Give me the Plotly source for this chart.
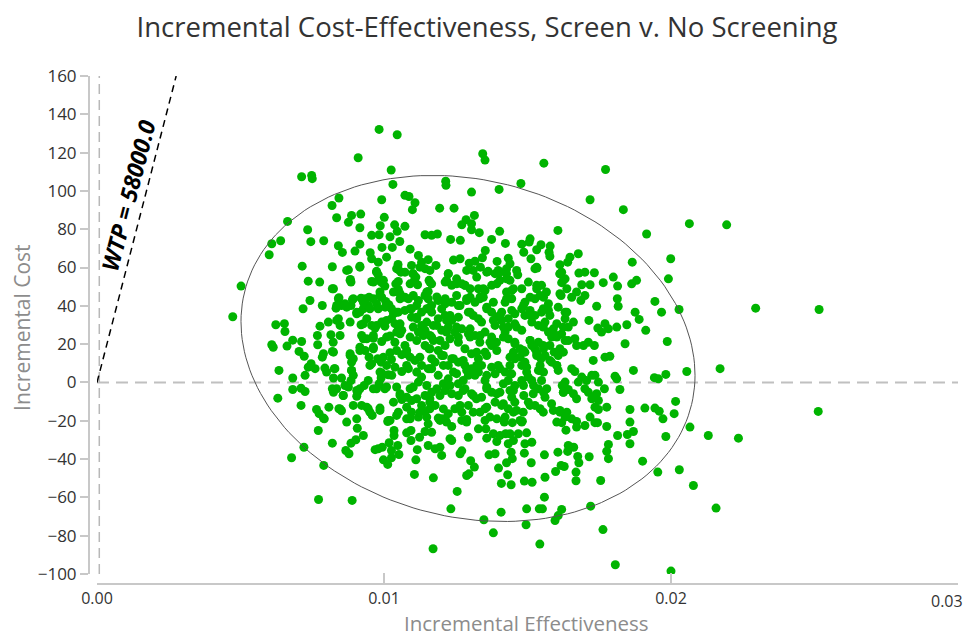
import math
import plotly.graph_objects as go

# ---- Monte Carlo replicates (incremental effectiveness, incremental cost), read by region ----
eff_upper_left = [0.00983, 0.01046, 0.00910, 0.01025, 0.00713, 0.00748, 0.00750, 0.01031, 0.01073, 0.01087,
                  0.01108, 0.01099, 0.00992, 0.00843, 0.00819, 0.00664, 0.00835, 0.00887, 0.00919, 0.00876,
                  0.01001, 0.00987, 0.00916, 0.01037, 0.01073, 0.01046, 0.00734, 0.00640, 0.00609, 0.00600,
                  0.00745, 0.00790, 0.00841, 0.00855, 0.00899, 0.00916, 0.00957, 0.00983, 0.01021, 0.01055,
                  0.00993, 0.01029, 0.01091, 0.01143, 0.01166, 0.00952, 0.00957, 0.01009, 0.00980, 0.00715,
                  0.00820, 0.00876, 0.00916, 0.00974, 0.01049, 0.01050, 0.01096, 0.01120, 0.01131, 0.01154,
                  0.01143, 0.01073]
cost_upper_left = [132.1, 129.3, 117.3, 110.9, 107.4, 108.1, 106.4, 103.4, 97.7, 97.1,
                   93.8, 90.2, 95.4, 96.3, 92.4, 84.1, 86.0, 87.2, 87.9, 83.6,
                   86.2, 81.8, 80.8, 82.3, 81.5, 78.9, 79.7, 74.0, 72.4, 66.7,
                   73.5, 74.0, 71.4, 67.9, 68.6, 72.2, 76.8, 77.1, 76.1, 73.6,
                   70.5, 70.5, 69.6, 77.1, 76.8, 67.7, 64.6, 65.4, 62.8, 60.7,
                   60.4, 58.8, 60.7, 58.0, 61.6, 59.0, 61.1, 66.3, 62.8, 64.1,
                   59.4, 57.6]

eff_upper_centre = [0.01344, 0.01352, 0.01557, 0.01772, 0.01215, 0.01216, 0.01305, 0.01401, 0.01477, 0.01718,
                    0.01834, 0.01194, 0.01244, 0.01315, 0.01286, 0.01271, 0.01305, 0.01305, 0.01332, 0.01403,
                    0.01606, 0.01186, 0.01232, 0.01266, 0.01375, 0.01423, 0.01480, 0.01509, 0.01506, 0.01547,
                    0.01532, 0.01579, 0.01575, 0.01578, 0.01487, 0.01512, 0.01353, 0.01343, 0.01394, 0.01433,
                    0.01439, 0.01427, 0.01242, 0.01265, 0.01181, 0.01297, 0.01317, 0.01336, 0.01311, 0.01363,
                    0.01398, 0.01224, 0.01466, 0.01533, 0.01613, 0.01648, 0.01677, 0.01640, 0.01613, 0.01679,
                    0.01733, 0.01799, 0.01865]
cost_upper_centre = [119.4, 116.1, 114.5, 111.2, 105.1, 102.9, 99.4, 100.8, 103.9, 95.4,
                     90.2, 91.0, 91.0, 87.2, 85.0, 82.3, 82.9, 79.7, 78.2, 78.9,
                     79.4, 77.5, 74.7, 74.2, 74.7, 72.6, 72.2, 75.0, 73.3, 71.9,
                     69.3, 71.2, 68.0, 65.8, 68.0, 64.6, 68.9, 65.1, 63.2, 64.9,
                     62.0, 59.4, 63.9, 64.6, 61.1, 62.3, 63.3, 60.2, 58.5, 58.0,
                     58.5, 56.8, 56.2, 59.7, 61.5, 65.4, 67.2, 62.8, 56.8, 57.1,
                     57.3, 55.0, 62.8]

eff_upper_right = [0.02064, 0.02194, 0.01915, 0.01999]
cost_upper_right = [82.9, 82.3, 77.5, 64.6]

eff_mid_left = [0.00502, 0.00473, 0.00980, 0.01059, 0.01100, 0.01111, 0.01160, 0.00736, 0.00776, 0.00820,
                0.00883, 0.00885, 0.00957, 0.00980, 0.01003, 0.00992, 0.01050, 0.01041, 0.01106, 0.01117,
                0.01157, 0.01166, 0.01050, 0.01056, 0.01073, 0.01085, 0.01154, 0.01143, 0.01120, 0.00986,
                0.00992, 0.00948, 0.00963, 0.01006, 0.01017, 0.00974, 0.00980, 0.00920, 0.00890, 0.00885,
                0.00843, 0.00852, 0.00833, 0.00864, 0.00742, 0.00718, 0.00785, 0.00905, 0.00916, 0.00940,
                0.00920, 0.00957, 0.00969, 0.00992, 0.01003, 0.01026, 0.01038, 0.01050, 0.01062, 0.01096,
                0.01114, 0.01131, 0.01149, 0.01096, 0.01073, 0.01131, 0.01143, 0.00841, 0.00847, 0.00806,
                0.00777, 0.00623, 0.00653, 0.00655, 0.00609, 0.00614, 0.00662, 0.00682, 0.00713, 0.00704,
                0.00722, 0.00768, 0.00769, 0.00815, 0.00823, 0.00820, 0.00789, 0.00785, 0.00746, 0.00736,
                0.00760, 0.00725, 0.00634, 0.00682, 0.00682, 0.00725, 0.00711, 0.00630, 0.00711, 0.00765,
                0.00774, 0.00789, 0.00808, 0.00843, 0.00852, 0.00794, 0.00800, 0.00827, 0.00824, 0.00852,
                0.00864, 0.00876, 0.00820, 0.00824, 0.00858, 0.00887, 0.00893, 0.00885, 0.00882, 0.00893,
                0.00887, 0.00916, 0.00934, 0.00963, 0.00948, 0.00957, 0.00978, 0.00990, 0.00922, 0.00940,
                0.00963, 0.00992, 0.00945, 0.00931, 0.00916, 0.00908, 0.00905, 0.00922, 0.00945, 0.00951,
                0.00986, 0.01015, 0.01044, 0.01050, 0.00992, 0.00990, 0.01015, 0.00983, 0.00974, 0.01003,
                0.01044, 0.01056, 0.01062, 0.01091, 0.01079, 0.01096, 0.01120, 0.01131, 0.01149, 0.01114,
                0.01131, 0.01143, 0.01160, 0.01021, 0.01038, 0.01056, 0.01073, 0.01079, 0.01062, 0.01091,
                0.01021, 0.01026, 0.01009, 0.01038, 0.01062, 0.01085, 0.01108, 0.01131, 0.01154, 0.01166,
                0.01114, 0.01143, 0.01157, 0.01120, 0.01160, 0.00928, 0.00945, 0.01026, 0.01033, 0.01050,
                0.00934, 0.01154, 0.01166, 0.01114, 0.00905, 0.01079, 0.01096, 0.01120]
cost_mid_left = [50.3, 34.3, 56.2, 57.6, 56.8, 55.0, 58.5, 52.9, 52.4, 48.9,
                 53.8, 52.4, 52.7, 53.3, 50.3, 52.1, 52.7, 51.5, 53.3, 51.0,
                 53.3, 51.5, 48.6, 46.3, 44.5, 43.7, 47.5, 45.4, 42.8, 47.2,
                 44.5, 44.5, 43.7, 42.3, 40.6, 41.1, 38.5, 44.0, 43.2, 40.2,
                 44.2, 40.2, 38.8, 41.1, 42.8, 38.5, 40.2, 35.9, 36.7, 33.3,
                 30.1, 29.8, 28.4, 31.5, 29.4, 33.3, 30.7, 28.9, 27.2, 34.1,
                 33.3, 36.7, 38.5, 38.5, 37.6, 29.8, 27.2, 33.3, 29.8, 31.5,
                 29.4, 30.1, 30.7, 26.6, 19.7, 18.4, 19.0, 22.1, 21.4, 16.2,
                 13.7, 24.5, 19.7, 24.9, 21.0, 16.2, 15.0, 13.2, 9.8, 8.0,
                 7.2, 3.7, 6.3, 2.3, -3.7, -4.7, -3.0, -8.2, -12.0, -14.1,
                 -16.3, -18.6, -12.9, -13.7, -14.8, 7.5, 5.4, 7.2, 2.3, 2.3,
                 -1.6, -2.4, -3.3, -5.1, -6.8, 6.3, 3.7, 1.0, 15.0, 12.4,
                 10.6, 18.4, 16.7, 18.4, 13.2, 9.8, 12.4, 10.6, 24.5, 22.8,
                 23.1, 21.4, 1.0, -1.6, -3.3, -5.1, -7.2, -12.0, -13.7, -15.5,
                 -13.4, -19.8, -17.2, -15.5, 5.0, 2.3, 4.0, -0.7, -3.3, -3.3,
                 -2.4, -6.8, -8.9, -3.3, -7.7, -9.4, 0.2, 2.8, -1.6, -8.5,
                 -12.0, -15.1, -13.7, 24.2, 21.0, 25.4, 19.3, 16.7, 14.5, 13.2,
                 15.5, 12.0, 8.9, 8.0, 5.7, 7.2, 11.5, 8.9, 7.2, 12.4,
                 21.9, 19.3, 17.6, 26.3, 24.5, 38.5, 40.2, 38.5, 35.9, 36.7,
                 43.7, 43.7, 40.2, 40.2, -19.0, -19.0, -15.5, -18.1]

eff_mid_centre = [0.01700, 0.01619, 0.01631, 0.01689, 0.01718, 0.01619, 0.01637, 0.01764, 0.01814, 0.01617,
                  0.01654, 0.01671, 0.01686, 0.01700, 0.01741, 0.01813, 0.01816, 0.01714, 0.01745, 0.01758,
                  0.01770, 0.01782, 0.01811, 0.01811, 0.01822, 0.01805, 0.01768, 0.01741, 0.01724, 0.01747,
                  0.01776, 0.01735, 0.01747, 0.01718, 0.01654, 0.01613, 0.01637, 0.01590, 0.01584, 0.01625,
                  0.01642, 0.01660, 0.01671, 0.01677, 0.01689, 0.01706, 0.01724, 0.01735, 0.01747, 0.01700,
                  0.01712, 0.01729, 0.01654, 0.01665, 0.01729, 0.01770, 0.01787, 0.01733, 0.01665, 0.01671,
                  0.01695, 0.01712, 0.01631, 0.01619, 0.01602, 0.01613, 0.01607, 0.01584, 0.01578, 0.01593,
                  0.01584, 0.01602, 0.01607, 0.01631, 0.01621, 0.01556, 0.01561, 0.01547, 0.01538, 0.01526,
                  0.01532, 0.01544, 0.01538, 0.01556, 0.01549, 0.01538, 0.01521, 0.01556, 0.01561, 0.01497,
                  0.01503, 0.01515, 0.01487, 0.01503, 0.01526, 0.01544, 0.01485, 0.01480, 0.01451, 0.01433,
                  0.01422, 0.01451, 0.01445, 0.01456, 0.01404, 0.01387, 0.01410, 0.01352, 0.01334, 0.01369,
                  0.01294, 0.01271, 0.01247, 0.01224, 0.01201, 0.01218, 0.01178, 0.01160, 0.01166, 0.01195,
                  0.01213, 0.01236, 0.01259, 0.01282, 0.01305, 0.01322, 0.01340, 0.01358, 0.01375, 0.01416,
                  0.01433, 0.01456, 0.01480, 0.01480, 0.01491, 0.01474, 0.01439, 0.01422, 0.01445, 0.01456,
                  0.01451, 0.01398, 0.01387, 0.01375, 0.01340, 0.01329, 0.01317, 0.01352, 0.01294, 0.01276,
                  0.01259, 0.01282, 0.01305, 0.01242, 0.01224, 0.01207, 0.01189, 0.01166, 0.01178, 0.01201,
                  0.01236, 0.01259, 0.01224, 0.01189, 0.01213, 0.01282, 0.01305, 0.01329, 0.01352, 0.01375,
                  0.01334, 0.01317, 0.01352, 0.01375, 0.01392, 0.01422, 0.01433, 0.01456, 0.01474, 0.01491,
                  0.01462, 0.01480, 0.01509, 0.01515, 0.01538, 0.01561, 0.01573, 0.01590, 0.01578, 0.01573,
                  0.01549, 0.01526, 0.01491, 0.01509, 0.01480, 0.01456, 0.01433, 0.01410, 0.01392, 0.01375,
                  0.01358, 0.01422, 0.01445, 0.01427, 0.01451, 0.01439, 0.01427, 0.01387, 0.01404, 0.01375,
                  0.01352, 0.01329, 0.01334, 0.01346, 0.01317, 0.01300, 0.01288, 0.01294, 0.01311, 0.01329,
                  0.01259, 0.01236, 0.01213, 0.01189, 0.01253, 0.01271, 0.01236, 0.01213, 0.01282, 0.01300,
                  0.01166, 0.01189, 0.01213, 0.01236, 0.01259, 0.01172, 0.01201, 0.01224, 0.01247, 0.01271,
                  0.01294, 0.01166, 0.01195, 0.01230, 0.01259, 0.01387, 0.01410, 0.01433, 0.01602, 0.01631,
                  0.01642, 0.01660, 0.01607, 0.01631, 0.01526, 0.01556, 0.01573, 0.01491, 0.01509, 0.01532,
                  0.01549, 0.01566, 0.01480, 0.01503, 0.01526]
cost_mid_centre = [57.6, 57.6, 54.1, 51.0, 51.0, 52.1, 48.9, 52.1, 50.3, 45.4,
                   44.5, 47.2, 42.8, 45.4, 39.8, 43.7, 39.8, 32.4, 28.4, 26.3,
                   30.7, 28.0, 28.9, 1.9, -3.7, 3.3, -3.3, -5.9, -8.5, -9.4,
                   -12.9, -12.9, -14.1, -18.1, -19.0, -15.5, -15.5, -14.6, -11.1, -5.1,
                   -3.7, -5.9, -8.5, 0.2, 2.8, 1.0, 3.7, 3.7, 0.2, -3.3,
                   -5.1, -7.7, 7.2, 5.7, 11.5, 13.2, 13.7, 19.3, 22.8, 19.3,
                   19.3, 21.0, 21.9, 25.4, 23.7, 17.6, 14.1, 23.7, 19.3, 15.8,
                   10.6, 8.9, 6.3, 0.2, -1.6, 17.6, 14.1, 12.4, 21.0, 17.6,
                   15.5, 8.9, 6.3, 5.4, 1.0, -3.3, -1.6, -5.1, -7.7, 5.4,
                   2.8, 1.0, -6.8, -10.3, -12.0, -13.7, -15.5, -20.7, -15.5, -13.7,
                   -18.1, -4.2, -7.7, -10.3, -5.1, -10.3, -12.0, -13.7, -15.5, -18.1,
                   -12.0, -15.5, -13.7, -16.3, -19.0, -20.7, -12.0, -8.5, -5.1, -6.8,
                   -4.2, -5.9, -6.8, -3.3, -5.9, -8.5, -7.7, -3.3, -5.1, -0.7,
                   1.0, -1.6, 1.0, 8.9, 10.6, 13.2, 8.9, 5.4, 4.5, 12.4,
                   15.8, 8.9, 4.5, 8.0, 8.9, 5.4, 3.7, 1.0, 3.7, 1.0,
                   -0.7, 8.9, 7.2, 5.4, 1.9, -0.7, 3.7, 7.2, 10.6, 14.1,
                   12.4, 10.6, 8.9, 16.7, 19.3, 17.6, 15.0, 12.4, 15.8, 19.3,
                   21.0, 24.5, 26.3, 23.7, 21.0, 26.3, 22.8, 20.2, 17.6, 15.8,
                   28.9, 27.2, 21.9, 19.3, 29.8, 31.5, 26.3, 28.0, 35.0, 37.6,
                   36.7, 35.0, 35.0, 37.6, 38.5, 35.9, 33.3, 36.7, 34.1, 36.7,
                   39.3, 41.9, 43.7, 47.2, 48.9, 53.3, 56.8, 56.8, 53.3, 50.7,
                   48.0, 48.9, 43.7, 44.5, 41.9, 44.5, 42.8, 36.7, 35.0, 33.3,
                   40.2, 41.9, 41.1, 42.8, 54.1, 51.5, 50.7, 52.4, 50.7, 48.9,
                   36.7, 33.3, 35.0, 32.4, 34.1, 29.8, 27.2, 28.9, 26.3, 28.0,
                   25.4, 23.7, 21.9, 22.8, 21.0, 29.8, 32.4, 28.9, 30.7, 33.3,
                   28.9, 31.5, 39.3, 36.7, 43.7, 44.5, 41.1, 41.9, 44.5, 48.9,
                   50.7, 47.2, 48.9, 52.4, 59.4]

# dense core, read row by row
eff_core = [0.00870, 0.00916, 0.00974, 0.01044, 0.01102, 0.01125, 0.01224, 0.01288, 0.01323, 0.01358, 0.01404, 0.01427, 0.01462, 0.01532, 0.01613,
            0.00882, 0.00963, 0.00998, 0.01091, 0.01160, 0.01218, 0.01253, 0.01282, 0.01346, 0.01393, 0.01445, 0.01532, 0.01625,
            0.00824, 0.00841, 0.00893, 0.00928, 0.00986, 0.01033, 0.01056, 0.01102, 0.01149, 0.01184, 0.01213, 0.01253, 0.01288, 0.01335, 0.01381, 0.01427, 0.01486, 0.01544, 0.01613,
            0.00835, 0.00870, 0.00905, 0.00951, 0.01004, 0.01044, 0.01091, 0.01114, 0.01160, 0.01201, 0.01230, 0.01265, 0.01300, 0.01358, 0.01404, 0.01445, 0.01509, 0.01555, 0.01637,
            0.00835, 0.00882, 0.00928, 0.00974, 0.01009, 0.01056, 0.01102, 0.01149, 0.01184, 0.01218, 0.01253, 0.01300, 0.01340, 0.01381, 0.01416, 0.01456, 0.01515, 0.01555, 0.01625,
            0.00847, 0.00928, 0.00963, 0.01009, 0.01044, 0.01091, 0.01137, 0.01172, 0.01218, 0.01259, 0.01300, 0.01335, 0.01369, 0.01416, 0.01456, 0.01509, 0.01555, 0.01602, 0.01642,
            0.00824, 0.00882, 0.00916, 0.00963, 0.00998, 0.01044, 0.01079, 0.01125, 0.01160, 0.01207, 0.01242, 0.01276, 0.01323, 0.01358, 0.01393, 0.01439, 0.01486, 0.01532, 0.01578, 0.01625,
            0.00829, 0.00887, 0.00951, 0.00986, 0.01027, 0.01079, 0.01114, 0.01160, 0.01207, 0.01253, 0.01288, 0.01323, 0.01358, 0.01404, 0.01439, 0.01497, 0.01544, 0.01602,
            0.00835, 0.00858, 0.00905, 0.00963, 0.01009, 0.01056, 0.01102, 0.01143, 0.01184, 0.01230, 0.01276, 0.01311, 0.01358, 0.01393, 0.01439, 0.01486, 0.01520, 0.01567, 0.01625,
            0.00847, 0.00893, 0.00940, 0.00986, 0.01033, 0.01079, 0.01125, 0.01160, 0.01207, 0.01265, 0.01311, 0.01358, 0.01416, 0.01462, 0.01509, 0.01555, 0.01613,
            0.00870, 0.01021, 0.01091, 0.01195, 0.01288, 0.01393, 0.01474, 0.01602]
cost_core = [58.5, 60.2, 57.6, 59.4, 56.7, 60.2, 56.7, 58.5, 55.0, 57.6, 57.6, 54.1, 58.5, 60.2, 56.7,
             53.3, 52.4, 53.3, 51.5, 52.4, 53.3, 51.5, 50.7, 48.9, 51.5, 48.0, 50.7, 53.3,
             48.9, 43.7, 43.7, 41.9, 45.4, 47.2, 43.7, 45.4, 47.2, 44.6, 43.7, 45.4, 43.7, 44.6, 41.9, 43.7, 40.2, 45.4, 46.3,
             40.2, 39.3, 36.7, 38.5, 39.3, 36.7, 38.5, 34.1, 39.3, 38.5, 35.0, 40.2, 36.7, 38.5, 35.0, 37.6, 35.0, 38.5, 36.7,
             32.4, 31.5, 30.6, 29.8, 32.4, 30.6, 28.9, 31.5, 29.8, 32.4, 28.9, 28.0, 31.5, 32.4, 28.9, 30.6, 31.5, 28.9, 28.9,
             24.5, 22.8, 24.5, 23.7, 26.3, 23.7, 24.5, 21.9, 26.3, 23.7, 23.7, 24.5, 21.0, 23.7, 21.0, 21.9, 19.3, 24.5, 21.9,
             15.8, 14.1, 16.7, 17.6, 13.2, 16.7, 15.0, 13.2, 17.6, 14.1, 12.4, 11.5, 15.8, 14.1, 16.7, 13.2, 16.7, 14.1, 11.5, 15.8,
             7.2, 6.3, 8.9, 5.4, 3.7, 8.9, 5.4, 7.2, 8.9, 4.6, 6.3, 8.9, 3.7, 7.2, 4.6, 8.0, 6.3, 8.9,
             -3.3, -6.8, -4.2, -3.3, -2.4, -5.9, -2.4, -6.8, -3.3, -1.6, -4.2, -6.8, -2.4, -5.9, -4.2, -1.6, -5.9, -3.3, -5.1,
             -13.8, -12.0, -12.9, -14.6, -10.3, -12.9, -15.5, -10.3, -13.8, -12.0, -15.5, -12.9, -11.1, -14.6, -12.0, -15.5, -14.6,
             -20.7, -19.8, -19.0, -19.8, -20.7, -19.0, -19.8, -20.7]

eff_mid_right = [0.01991, 0.01863, 0.01880, 0.01944, 0.01967, 0.02028, 0.02295, 0.02516, 0.01875, 0.01889,
                 0.01846, 0.01912, 0.01840, 0.01987, 0.01869, 0.01942, 0.01956, 0.01982, 0.02055, 0.02171,
                 0.02016, 0.01857, 0.01909, 0.01944, 0.01959, 0.02011, 0.01972, 0.01857, 0.02513]
cost_mid_right = [54.1, 51.5, 53.3, 42.3, 36.7, 38.1, 38.8, 38.1, 36.7, 32.9,
                  30.1, 27.2, 20.2, 21.4, 6.3, 2.5, 1.9, 4.2, 5.7, 7.2,
                  -9.9, -14.1, -13.4, -13.4, -15.0, -16.3, -19.0, -20.7, -15.1]

eff_lower_left = [0.00721, 0.00678, 0.00790, 0.00772, 0.00889, 0.00771, 0.00792, 0.00820, 0.00907, 0.00928,
                  0.00902, 0.00885, 0.00867, 0.00878, 0.00969, 0.00980, 0.00994, 0.01018, 0.01048, 0.01026,
                  0.00998, 0.01013, 0.01026, 0.01052, 0.01035, 0.01035, 0.01013, 0.01079, 0.01094, 0.01094,
                  0.01124, 0.01143, 0.01116, 0.01111, 0.01106, 0.01091, 0.01149, 0.00959]
cost_lower_left = [-33.8, -39.3, -43.3, -61.1, -61.6, -25.1, -19.0, -31.7, -23.9, -27.7,
                   -29.9, -31.7, -35.5, -37.2, -35.1, -34.6, -33.8, -31.5, -32.9, -35.5,
                   -40.4, -42.8, -39.3, -37.6, -25.1, -27.7, -20.4, -26.3, -25.1, -30.3,
                   -28.6, -25.6, -35.1, -40.4, -48.0, -18.6, -18.1, -17.2]

eff_lower_centre = [0.01172, 0.01255, 0.01233, 0.01348, 0.01381, 0.01171, 0.01408, 0.01497, 0.01495, 0.01541,
                    0.01552, 0.01559, 0.01543, 0.01619, 0.01607, 0.01596, 0.01720, 0.01763, 0.01806, 0.01409,
                    0.01443, 0.01489, 0.01516, 0.01561, 0.01669, 0.01755, 0.01431, 0.01399, 0.01288, 0.01296,
                    0.01315, 0.01302, 0.01265, 0.01271, 0.01201, 0.01178, 0.01154, 0.01427, 0.01447, 0.01513,
                    0.01559, 0.01606, 0.01598, 0.01617, 0.01628, 0.01669, 0.01679, 0.01675, 0.01715, 0.01642,
                    0.01661, 0.01640, 0.01782, 0.01776, 0.01782, 0.01814, 0.01776, 0.01735, 0.01744, 0.01700,
                    0.01671, 0.01671, 0.01634, 0.01619, 0.01631, 0.01489, 0.01491, 0.01515, 0.01497, 0.01468,
                    0.01482, 0.01447, 0.01439, 0.01451, 0.01433, 0.01443, 0.01393, 0.01404, 0.01366, 0.01387,
                    0.01358, 0.01355, 0.01381, 0.01329, 0.01352, 0.01294, 0.01230, 0.01236, 0.01195, 0.01236,
                    0.01166, 0.01154, 0.01213, 0.01189, 0.01271, 0.01288, 0.01424, 0.01419]
cost_lower_centre = [-49.8, -56.9, -66.0, -71.7, -78.5, -86.8, -67.7, -66.0, -74.3, -66.0,
                     -66.0, -59.9, -84.4, -66.3, -69.5, -72.1, -64.6, -76.8, -95.2, -52.7,
                     -53.4, -51.5, -52.1, -49.5, -51.3, -51.2, -48.2, -44.7, -48.6, -47.7,
                     -44.2, -40.9, -37.2, -35.7, -38.1, -34.6, -32.9, -41.9, -39.8, -41.9,
                     -37.8, -36.4, -46.5, -43.3, -43.9, -46.8, -41.9, -38.6, -38.8, -32.9,
                     -33.8, -36.0, -39.8, -35.9, -32.4, -27.7, -23.0, -21.0, -21.0, -22.5,
                     -20.4, -23.3, -24.9, -21.0, -18.1, -36.9, -32.0, -31.2, -26.3, -26.8,
                     -20.2, -21.0, -26.8, -30.3, -32.0, -36.4, -30.8, -27.7, -37.8, -37.2,
                     -29.1, -24.2, -26.8, -24.2, -19.8, -28.6, -29.4, -30.3, -33.8, -23.0,
                     -26.0, -21.6, -19.0, -18.6, -19.8, -19.3, -26.8, -20.7]

eff_lower_right = [0.02066, 0.01848, 0.01869, 0.01857, 0.01982, 0.02130, 0.02235, 0.01901, 0.01954, 0.02029,
                   0.02078, 0.02157, 0.02000]
cost_lower_right = [-23.3, -27.2, -25.6, -32.0, -28.2, -27.7, -29.1, -41.1, -46.8, -45.6,
                    -53.8, -65.6, -98.5]

# ---- axes, reference lines / ellipse parameters ----
wtp = 58000.0
y_range = [-100, 160]
x_range = [0, 0.03]
x_tick_values = [0, 0.01, 0.02, 0.03]
x_tick_labels = ["0.00", "0.01", "0.02", "0.03"]
ellipse_centre = (0.012927, 17.75)
ellipse_half_x = 0.00791     # half-width in effectiveness
ellipse_half_y = 90.35       # half-height in cost
ellipse_rho = -0.155         # correlation (tilt)

eff_groups = [eff_upper_left, eff_upper_centre, eff_upper_right, eff_mid_left, eff_mid_centre, eff_core,
              eff_mid_right, eff_lower_left, eff_lower_centre, eff_lower_right]
cost_groups = [cost_upper_left, cost_upper_centre, cost_upper_right, cost_mid_left, cost_mid_centre, cost_core,
               cost_mid_right, cost_lower_left, cost_lower_centre, cost_lower_right]
inc_eff, inc_cost = [], []
for ex, cy in zip(eff_groups, cost_groups):
    k = min(len(ex), len(cy))
    inc_eff += ex[:k]
    inc_cost += cy[:k]

ts = [2 * math.pi * i / 180 for i in range(181)]
s = math.sqrt(1 - ellipse_rho ** 2)
ell_x = [ellipse_centre[0] + ellipse_half_x * math.cos(t) for t in ts]
ell_y = [ellipse_centre[1] + ellipse_half_y * (ellipse_rho * math.cos(t) + s * math.sin(t)) for t in ts]

FONT = "Open Sans"
fig = go.Figure()
fig.add_trace(go.Scatter(x=[0, x_range[1]], y=[0, 0], mode="lines",
                         line=dict(color="#c0c0c0", width=2, dash="12px,7px"), hoverinfo="skip", showlegend=False))
fig.add_trace(go.Scatter(x=[0.00008, 0.00008], y=y_range, mode="lines",
                         line=dict(color="#b8b8b8", width=1.5, dash="10px,6px"), hoverinfo="skip", showlegend=False))
fig.add_trace(go.Scatter(x=inc_eff, y=inc_cost, mode="markers",
                         marker=dict(color="#00b400", size=9, line=dict(width=0)), showlegend=False))
fig.add_trace(go.Scatter(x=ell_x, y=ell_y, mode="lines", line=dict(color="#555555", width=1),
                         hoverinfo="skip", showlegend=False))
fig.add_trace(go.Scatter(x=[0, y_range[1] / wtp], y=[0, y_range[1]], mode="lines",
                         line=dict(color="black", width=1.5, dash="7px,5px"), hoverinfo="skip", showlegend=False))

fig.add_annotation(x=0.00108, y=98.0, xref="x", yref="y", text="WTP = 58000.0", showarrow=False,
                   textangle=-75.6, font=dict(family=FONT, size=23, color="black", weight="bold", style="italic"))
fig.add_annotation(x=0.503, y=-0.077, xref="paper", yref="paper", text="Incremental Effectiveness",
                   showarrow=False, yanchor="middle", borderpad=0,
                   font=dict(family=FONT, size=20.5, color="#8c8c8c"))
fig.add_annotation(x=-0.0765, y=0.505, xref="paper", yref="paper", text="Incremental Cost",
                   showarrow=False, textangle=-90, xanchor="center",
                   font=dict(family=FONT, size=21, color="#8c8c8c"))
# last x tick label sits at the right page edge: drawn right-aligned so it stays inside the figure
fig.add_annotation(x=x_tick_values[-1], y=0, xref="x", yref="paper", text=x_tick_labels[-1],
                   showarrow=False, xanchor="right", yanchor="middle", xshift=7, yshift=-17,
                   font=dict(family=FONT, size=16, color="#333333"))

# the page body adds an 8px offset, so the figure is sized to avoid page scrolling
fig.update_layout(
    width=958, height=627,
    margin=dict(l=81, r=8, t=68, b=51, autoexpand=False),
    paper_bgcolor="white", plot_bgcolor="white",
    title=dict(text="Incremental Cost-Effectiveness, Screen v. No Screening", x=479 / 958, xref="container",
               y=1 - 19 / 627, yref="container", yanchor="middle", xanchor="center",
               font=dict(family=FONT, size=27.5, color="#333333")),
    xaxis=dict(range=x_range, domain=[0.0092, 1], anchor="free", position=0, automargin=False,
               tickvals=x_tick_values, ticktext=x_tick_labels[:-1] + [""],
               showline=True, linecolor="#c8c8c8", linewidth=2, ticks="inside", ticklen=10,
               tickcolor="#c8c8c8", tickwidth=1.5, showgrid=False, zeroline=False,
               tickfont=dict(family=FONT, size=16, color="#333333")),
    yaxis=dict(range=y_range, domain=[0.0197, 1], anchor="free", position=0, automargin=False,
               tick0=-100, dtick=20, showline=True, linecolor="#c8c8c8", linewidth=2,
               ticks="outside", ticklen=8, tickcolor="#c8c8c8", tickwidth=1.5,
               showgrid=False, zeroline=False,
               tickfont=dict(family=FONT, size=17, color="#333333")),
)
fig.write_html("out.html")
